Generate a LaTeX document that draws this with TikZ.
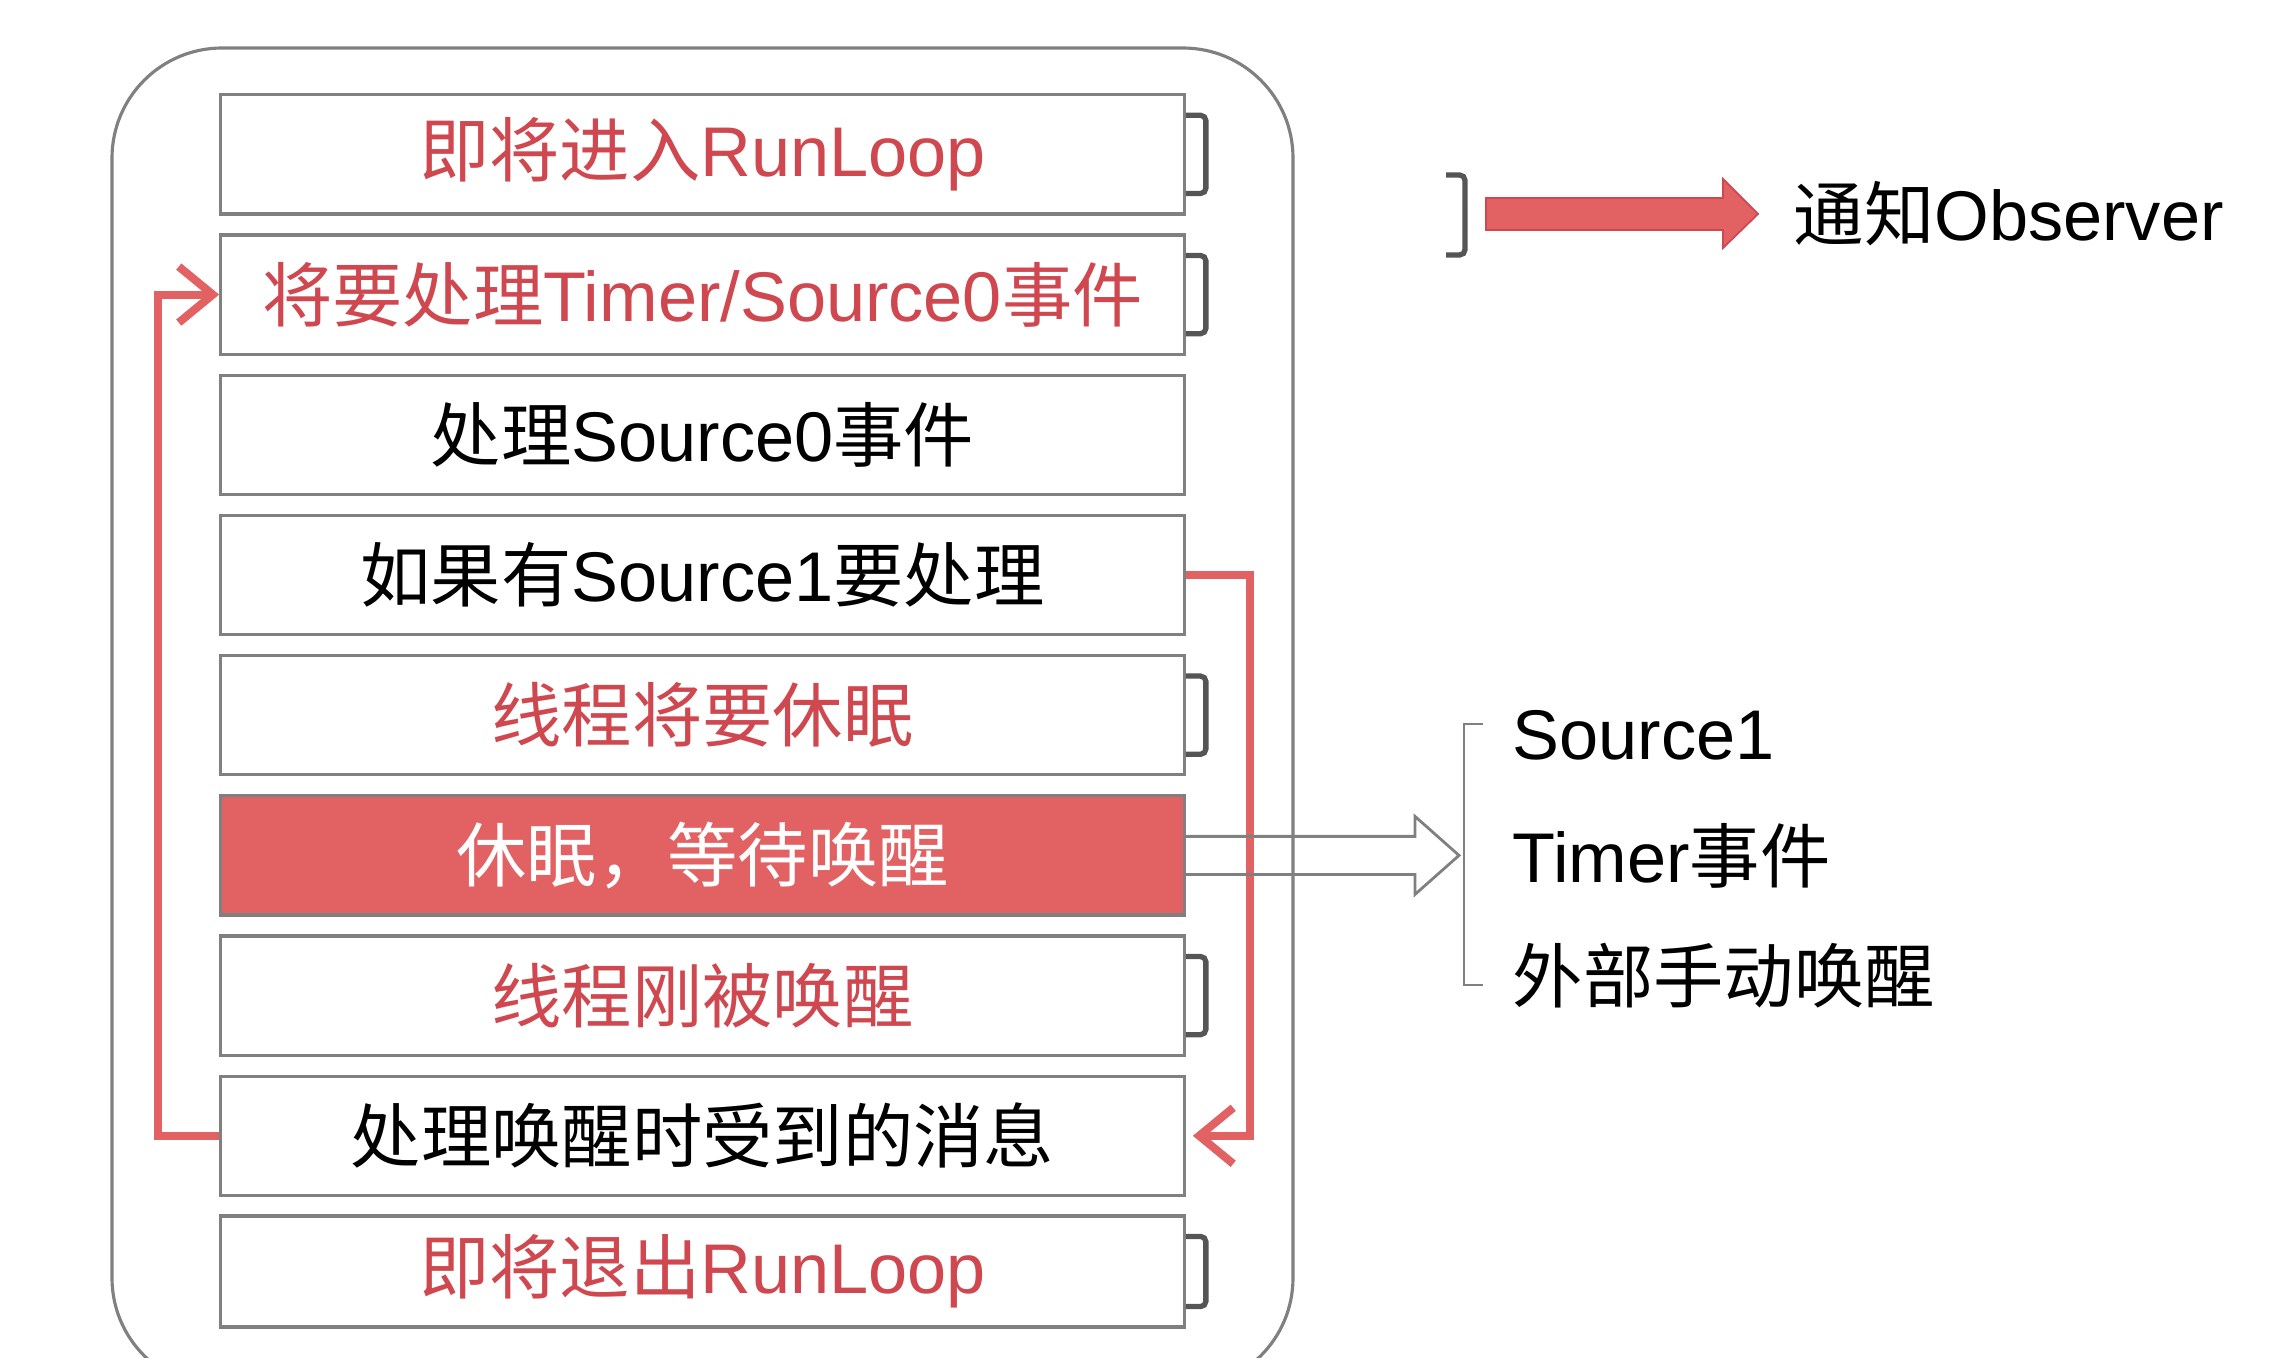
\documentclass[tikz,border=0pt]{standalone}
\usepackage{fontspec}
\setmainfont{Liberation Sans}
\newfontfamily\zh{Noto Sans CJK SC}
\usepackage{tikz}
\usetikzlibrary{arrows.meta}

\definecolor{loopred}{RGB}{226,98,100}
\definecolor{looptext}{RGB}{207,72,80}
\definecolor{boxgray}{RGB}{128,128,128}
\definecolor{hookgray}{RGB}{85,85,85}

\begin{document}
\begin{tikzpicture}[x=0.01cm, y=-0.01cm, line width=1pt,
    rowbox/.style={draw=boxgray, line width=0.9pt, minimum width=9.63cm,
        minimum height=1.19cm, inner sep=0pt, font=\fontsize{20pt}{24pt}\selectfont},
    notehook/.style={draw=hookgray, line width=1.5pt, rounded corners=1.5pt},
    loopline/.style={draw=loopred, line width=2.3pt,
        -{Straight Barb[length=0.34cm, width=0.56cm, line width=2.3pt]}},
    sidetext/.style={anchor=west, inner sep=0pt, font=\fontsize{20pt}{24pt}\selectfont}]

% page and outer frame
\clip (0,0) rectangle (2284,1358);
\draw[draw=boxgray, line width=0.9pt, rounded corners=1.1cm] (112,48) rectangle (1293,1388);

% the nine steps of the loop
\node[rowbox, text=looptext] (b1) at (702.5,154.4) {{\zh 即将进入}RunLoop};
\node[rowbox, text=looptext] (b2) at (702.5,294.6) {{\zh 将要处理}Timer/Source0{\zh 事件}};
\node[rowbox] (b3) at (702.5,434.8) {{\zh 处理}Source0{\zh 事件}};
\node[rowbox] (b4) at (702.5,575.0) {{\zh 如果有}Source1{\zh 要处理}};
\node[rowbox, text=looptext] (b5) at (702.5,715.2) {{\zh 线程将要休眠}};
\node[rowbox, fill=loopred, text=white] (b6) at (702.5,855.4) {{\zh 休眠，等待唤醒}};
\node[rowbox, text=looptext] (b7) at (702.5,995.6) {{\zh 线程刚被唤醒}};
\node[rowbox] (b8) at (702.5,1135.8) {{\zh 处理唤醒时受到的消息}};
\node[rowbox, text=looptext, minimum height=1.11cm] (b9) at (702.5,1271.5) {{\zh 即将退出}RunLoop};

% observer marks
\foreach \i in {1,2,5,7,9}
{
    \draw[notehook] ([yshift=-0.22cm]b\i.north east) -- ++(0.2cm,0)
        -- ([xshift=0.2cm, yshift=0.22cm]b\i.south east) -- ([yshift=0.22cm]b\i.south east);
}

% loop back and source1 jump
\draw[loopline] (b8.west) -- ++(-0.61cm,0) |- (b2.west);
\draw[loopline] (b4.east) -- ++(0.64cm,0) |- ([xshift=0.07cm]b8.east);

% hollow arrow to wake up sources
\draw[draw=boxgray, line width=0.8pt] ([yshift=0.19cm]b6.east) -- ++(2.29cm,0) -- ++(0,0.2cm)
    -- ++(0.44cm,-0.39cm) -- ++(-0.44cm,-0.39cm) -- ++(0,0.2cm) -- ([yshift=-0.19cm]b6.east);

% wake up sources
\node[sidetext] (src) at (1511,735.6) {Source1};
\node[sidetext] (tmr) at (1511,855.4) {Timer{\zh 事件}};
\node[sidetext] (ext) at (1511,976) {{\zh 外部手动唤醒}};
\draw[draw=boxgray, line width=0.7pt] (1483,724) -- (1464,724) -- (1464,985) -- (1483,985);

% legend
\draw[notehook] (1446,175) -- (1465,175) -- (1465,255) -- (1446,255);
\filldraw[fill=loopred, draw=looptext, line width=0.5pt] (1486,198) -- (1723,198) -- (1723,179)
    -- (1758,214) -- (1723,248) -- (1723,230) -- (1486,230) -- cycle;
\node[sidetext] (obs) at (1792,214) {{\zh 通知}Observer};

\end{tikzpicture}
\end{document}
